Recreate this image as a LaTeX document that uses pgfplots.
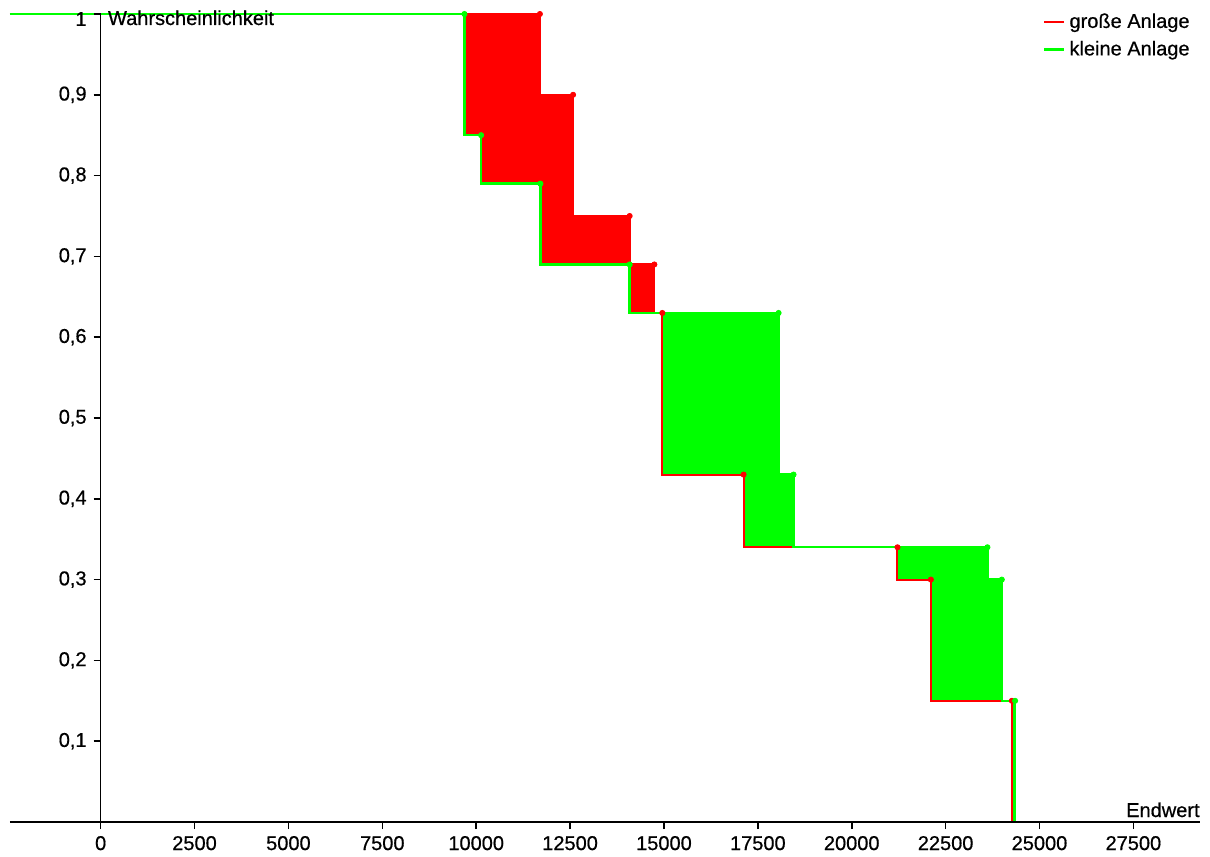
\documentclass[border=0pt]{standalone}
\usepackage{fontspec}
\setmainfont{Liberation Sans}[FakeBold=0.6]
\usepackage{pgfplots}
\pgfplotsset{compat=1.18}
\definecolor{rd}{RGB}{255,0,0}
\definecolor{gn}{RGB}{0,255,0}
\begin{document}
\fontsize{10}{12}\selectfont
\begin{tikzpicture}
\begin{axis}[
  scale only axis, width=595pt, height=404pt,
  xmin=-2414, xmax=29274, ymin=0, ymax=1,
  axis x line=bottom, axis y line=center,
  axis line style={-, black, line width=0.8pt},
  hide obscured x ticks=false, hide obscured y ticks=false,
  tick align=outside, major tick length=3.5pt,
  tick style={black, line width=0.8pt},
  scaled x ticks=false, scaled y ticks=false,
  xtick={0,2500,5000,7500,10000,12500,15000,17500,20000,22500,25000,27500},
  ytick={0.1,0.2,0.3,0.4,0.5,0.6,0.7,0.8,0.9},
  extra y ticks={1},
  extra y tick style={yticklabel style={yshift=-2.5pt}},
  x tick label style={/pgf/number format/1000 sep={}, /pgf/number format/assume math mode=true, font=\fontsize{10}{12}\selectfont},
  y tick label style={/pgf/number format/fixed, /pgf/number format/use comma, /pgf/number format/assume math mode=true, font=\fontsize{10}{12}\selectfont},
  clip=false, axis on top,
  legend style={at={(rel axis cs:1,1)}, anchor=north east, yshift=4.5pt, draw=none, fill=none, font=\fontsize{10}{12}\selectfont, row sep=1pt},
  legend cell align=left,
  legend image code/.code={\draw[#1] (0pt,0pt) -- (10pt,0pt);},
]
% filled areas between the two risk profiles
\addplot[fill=rd, draw=none, forget plot] coordinates {
  (9687,1) (11696,1) (11696,0.9) (12580,0.9) (12580,0.75) (14086,0.75) (14086,0.69) (14744,0.69) (14744,0.63)
  (14086,0.63) (14086,0.69) (11710,0.69) (11710,0.79) (10131,0.79) (10131,0.85) (9687,0.85)} -- cycle;
\addplot[fill=gn, draw=none, forget plot] coordinates {
  (14956,0.63) (18052,0.63) (18052,0.43) (18450,0.43) (18450,0.34)
  (17120,0.34) (17120,0.43) (14956,0.43)} -- cycle;
\addplot[fill=gn, draw=none, forget plot] coordinates {
  (21218,0.34) (23613,0.34) (23613,0.30) (23996,0.30) (23996,0.15) (24350,0.15) (24350,0)
  (24263,0) (24263,0.15) (22107,0.15) (22107,0.30) (21218,0.30)} -- cycle;
% große Anlage
\addplot[rd, line width=1pt] coordinates {
  (-2414,1) (11696,1) (11696,0.9) (12580,0.9) (12580,0.75) (14086,0.75) (14086,0.69) (14744,0.69) (14744,0.63)
  (14956,0.63) (14956,0.43) (17120,0.43) (17120,0.34) (21218,0.34) (21218,0.30) (22107,0.30) (22107,0.15)
  (24263,0.15) (24263,0)};
\addlegendentry{große Anlage}
% kleine Anlage
\addplot[gn, line width=1.2pt] coordinates {
  (-2414,1) (9687,1) (9687,0.85) (10131,0.85) (10131,0.79) (11710,0.79) (11710,0.69) (14086,0.69) (14086,0.63)
  (18052,0.63) (18052,0.43) (18450,0.43) (18450,0.34) (23613,0.34) (23613,0.30) (23996,0.30) (23996,0.15)
  (24350,0.15) (24350,0)};
\addlegendentry{kleine Anlage}
% corner points
\addplot[only marks, mark=*, mark size=1.3pt, rd, forget plot] coordinates {
  (11696,1) (12580,0.9) (14086,0.75) (14744,0.69) (14956,0.63) (17120,0.43) (21218,0.34) (22107,0.30) (24263,0.15)};
\addplot[only marks, mark=*, mark size=1.3pt, gn, forget plot] coordinates {
  (9687,1) (10131,0.85) (11710,0.79) (14086,0.69) (18052,0.63) (18450,0.43) (23613,0.34) (23996,0.30) (24350,0.15)};
\node[anchor=base west, inner sep=0pt] at ([xshift=3.5pt, yshift=-5.5pt]axis cs:0,1) {Wahrscheinlichkeit};
\node[anchor=base east, inner sep=0pt] at ([yshift=2.5pt]axis cs:29274,0) {Endwert};
\end{axis}
\path ([shift={(-5pt,-13.5pt)}]current axis.south west) rectangle ([shift={(5pt,7pt)}]current axis.north east);
\end{tikzpicture}
\end{document}
